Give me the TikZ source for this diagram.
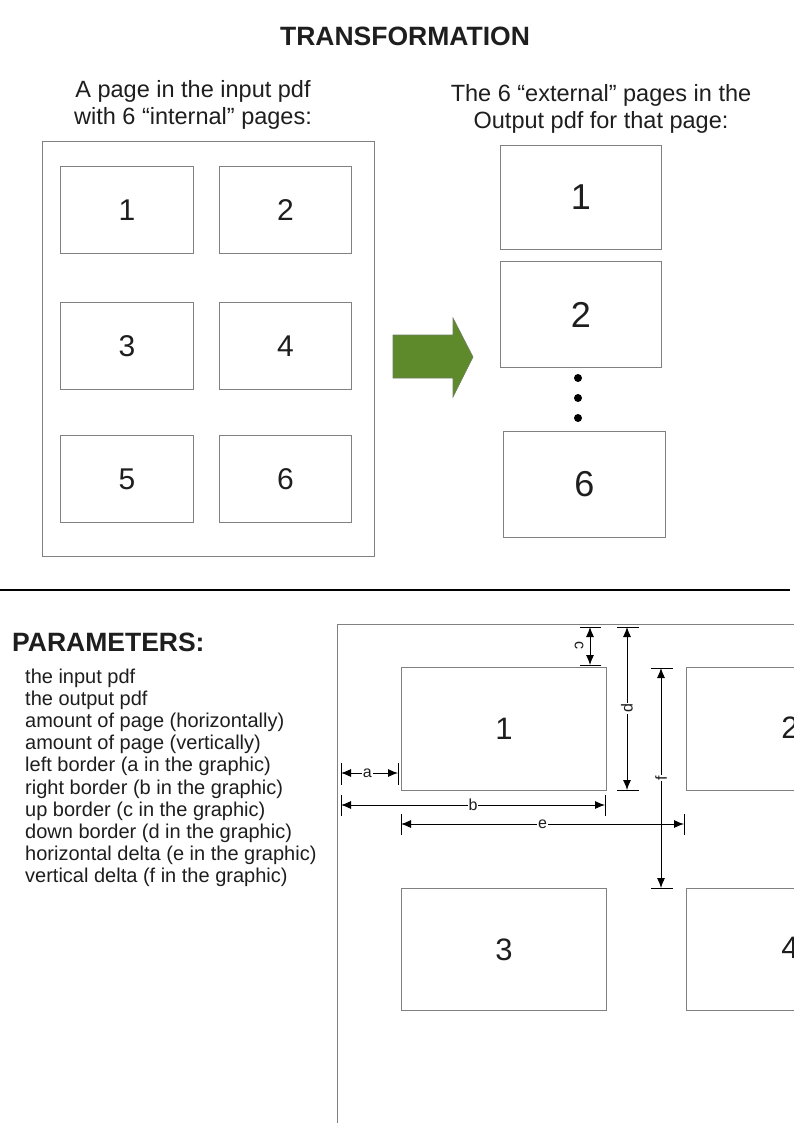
\documentclass[tikz,border=0pt]{standalone}
\usepackage{fontspec}
\setmainfont{Liberation Sans}
\usetikzlibrary{arrows.meta}
\definecolor{boxgray}{RGB}{128,128,128}
\definecolor{txt}{RGB}{30,30,30}
\definecolor{arrowgreen}{RGB}{94,138,43}
\definecolor{arrowedge}{RGB}{110,125,95}
\tikzset{
  pbox/.style={draw=boxgray, line width=0.9pt, anchor=north west, inner sep=0pt, text=txt},
  dimline/.style={draw=black, line width=0.9pt, {Latex[length=10pt,width=8pt]}-{Latex[length=10pt,width=8pt]}},
  tickline/.style={draw=black, line width=0.9pt},
  dimlabel/.style={fill=white, inner sep=1pt, text=txt, font=\fontsize{16}{16}\selectfont},
  listline/.style={anchor=base west, inner sep=0pt, text=txt, font=\fontsize{20}{20}\selectfont},
}
\begin{document}
\begin{tikzpicture}[x=1pt,y=-1pt]
\useasboundingbox[fill=white] (0,0) rectangle (794,1123);

% title
\node[anchor=base, text=txt, font=\bfseries\fontsize{26.5}{26.5}\selectfont] (title) at (405,46) {TRANSFORMATION};

% left header
\node[anchor=base, text=txt, align=center, font=\fontsize{23.5}{27}\selectfont] (lhead) at (193,125) {A page in the input pdf\\with 6 “internal” pages:};
% right header
\node[anchor=base, text=txt, align=center, font=\fontsize{23.5}{27}\selectfont] (rhead) at (601,129) {The 6 “external” pages in the\\Output pdf for that page:};

% left page
\node[pbox, minimum width=332pt, minimum height=415pt] (page) at (42,141) {};
\begin{scope}[every node/.append style={font=\fontsize{30}{30}\selectfont}]
\node[pbox, minimum width=133pt, minimum height=87pt] (i1) at (60,166) {1};
\node[pbox, minimum width=132pt, minimum height=87pt] (i2) at (219,166) {2};
\node[pbox, minimum width=133pt, minimum height=87pt] (i3) at (60,302) {3};
\node[pbox, minimum width=132pt, minimum height=87pt] (i4) at (219,302) {4};
\node[pbox, minimum width=133pt, minimum height=87pt] (i5) at (60,435) {5};
\node[pbox, minimum width=132pt, minimum height=87pt] (i6) at (219,435) {6};
\end{scope}

% green arrow
\filldraw[fill=arrowgreen, draw=arrowedge, line width=0.6pt]
  (393,335) -- (453,335) -- (453,318) -- (473,357) -- (453,397) -- (453,378) -- (393,378) -- cycle;

% right output pages
\begin{scope}[every node/.append style={font=\fontsize{36}{36}\selectfont}]
\node[pbox, minimum width=161pt, minimum height=104pt] (o1) at (500,145) {1};
\node[pbox, minimum width=161pt, minimum height=106pt] (o2) at (500,261) {2};
\node[pbox, minimum width=162pt, minimum height=106pt] (o6) at (503,431) {6};
\end{scope}
\foreach \yy in {378,398,418} \fill[black] (578,\yy) circle (4pt);

% separator
\draw[black, line width=1.6pt] (0,590) -- (790,590);

% parameters
\node[anchor=base west, inner sep=0pt, text=txt, font=\bfseries\fontsize{26.5}{26.5}\selectfont] (ptitle) at (12,651) {PARAMETERS:};
\foreach \t [count=\i from 0] in {the input pdf, the output pdf, amount of page (horizontally), amount of page (vertically), left border (a in the graphic), right border (b in the graphic), up border (c in the graphic), down border (d in the graphic), horizontal delta (e in the graphic), vertical delta (f in the graphic)}
  \node[listline] (l\i) at (25,683+22.2*\i) {\t};

% bottom graphic frame
\draw[boxgray, line width=0.9pt] (337,1123) -- (337,624) -- (794,624);
\begin{scope}[every node/.append style={font=\fontsize{31}{31}\selectfont}]
\node[pbox, minimum width=205pt, minimum height=123pt] (g1) at (401,667) {1};
\node[pbox, minimum width=205pt, minimum height=122pt] (g3) at (401,888) {3};
\end{scope}
\node[pbox, minimum width=108pt, minimum height=123pt] (g2) at (686,667) {};
\node[pbox, minimum width=108pt, minimum height=122pt] (g4) at (686,888) {};
\begin{scope}
\clip (337,600) rectangle (794,1123);
\node[text=txt, inner sep=0pt, font=\fontsize{31}{31}\selectfont] (n2) at (790,728) {2};
\node[text=txt, inner sep=0pt, font=\fontsize{31}{31}\selectfont] (n4) at (790,948) {4};
\end{scope}
\draw[white, line width=2pt] (g2.north east) -- (g2.south east) (g4.north east) -- (g4.south east);

% dimension coordinates
\coordinate (ctop) at (590,627);
\coordinate (cbot) at (590,665);
\coordinate (dtop) at (627,627);
\coordinate (dbot) at (627,790);
\coordinate (ftop) at (661,668);
\coordinate (fbot) at (661,888);
\coordinate (aL) at (341,773);
\coordinate (aR) at (398,773);
\coordinate (bL) at (341,805);
\coordinate (bR) at (605,805);
\coordinate (eL) at (401,824);
\coordinate (eR) at (684,824);

% ticks
\draw[tickline] (580,627) -- (601,627);
\draw[tickline] (580,665) -- (601,665);
\draw[tickline] (617,627) -- (639,627);
\draw[tickline] (617,790) -- (639,790);
\draw[tickline] (651,668) -- (673,668);
\draw[tickline] (651,888) -- (673,888);
\draw[tickline] (341,763) -- (341,785);
\draw[tickline] (398,763) -- (398,785);
\draw[tickline] (341,795) -- (341,816);
\draw[tickline] (605,795) -- (605,816);
\draw[tickline] (401,814) -- (401,835);
\draw[tickline] (684,814) -- (684,835);

% dimension lines
\draw[dimline] (ctop) -- (cbot);
\node[text=txt, inner sep=1pt, rotate=-90, font=\fontsize{16}{16}\selectfont] (lc) at (579,645) {c};
\draw[dimline] (dtop) -- (dbot) node[dimlabel, pos=0.5, rotate=90] (ld) {d};
\draw[dimline] (ftop) -- (fbot) node[dimlabel, pos=0.5, rotate=90] (lf) {f};
\draw[dimline] (aL) -- (aR) node[dimlabel, pos=0.46] (la) {a};
\draw[dimline] (bL) -- (bR) node[dimlabel, pos=0.5] (lb) {b};
\draw[dimline] (eL) -- (eR) node[dimlabel, pos=0.5] (le) {e};
\end{tikzpicture}
\end{document}
